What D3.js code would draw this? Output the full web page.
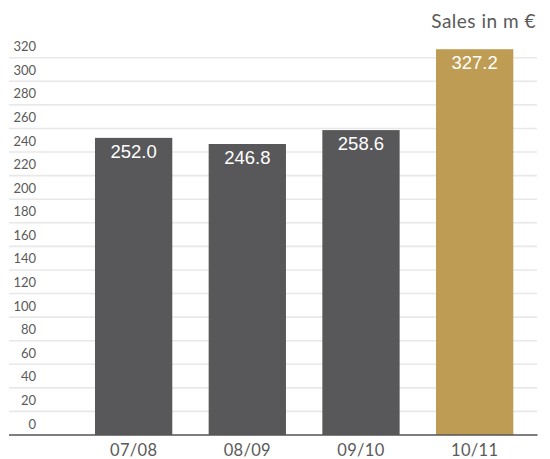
<!DOCTYPE html>
<html>
<head>
<meta charset="utf-8">
<script src="https://cdn.jsdelivr.net/npm/d3@7"></script>
<style>
  html, body { margin: 0; padding: 0; background: #fff; }
  svg { display: block; }
</style>
</head>
<body>
<svg id="chart" width="550" height="459"></svg>
<script>
const categories = ["07/08", "08/09", "09/10", "10/11"];
const salesValues = [252.0, 246.8, 258.6, 327.2];
const valueLabels = ["252.0", "246.8", "258.6", "327.2"];
const tickValues = [0, 20, 40, 60, 80, 100, 120, 140, 160, 180, 200, 220, 240, 260, 280, 300, 320];
const highlightCategory = "10/11";
const unitTitle = "Sales in m €";

const svg = d3.select("#chart");
const textFont = "Lato, 'Open Sans', sans-serif";
const textColor = "#5a5a5a";

const y = d3.scaleLinear().domain([0, 320]).range([435, 57.7]);
const x = d3.scaleBand().domain(categories).range([76.8, 531.5])
  .paddingInner(0.32).paddingOuter(0.16);

// gridlines
svg.append("g").selectAll("line").data(tickValues.filter(d => d > 0)).join("line")
  .attr("x1", 9).attr("x2", 537)
  .attr("y1", d => y(d)).attr("y2", d => y(d))
  .attr("stroke", "#e8e8e8").attr("stroke-width", 1.6);

// tick labels (above their gridline)
svg.append("g").selectAll("text").data(tickValues).join("text")
  .attr("x", 36).attr("y", d => y(d) - 6.5)
  .attr("text-anchor", "end")
  .attr("font-family", textFont).attr("font-size", 13)
  .attr("fill", textColor)
  .text(d => d);

// bars
svg.append("g").selectAll("rect").data(categories).join("rect")
  .attr("x", d => x(d)).attr("width", x.bandwidth())
  .attr("y", (d, i) => y(salesValues[i]))
  .attr("height", (d, i) => y(0) - y(salesValues[i]))
  .attr("fill", d => d === highlightCategory ? "#bf9c53" : "#58585a");

// value labels
svg.append("g").selectAll("text").data(categories).join("text")
  .attr("x", d => x(d) + x.bandwidth() / 2)
  .attr("y", (d, i) => y(salesValues[i]) + 20)
  .attr("text-anchor", "middle")
  .attr("font-family", "'Liberation Sans', Arial, sans-serif")
  .attr("font-size", 18.5)
  .attr("fill", "#ffffff")
  .text((d, i) => valueLabels[i]);

// baseline
svg.append("line")
  .attr("x1", 9).attr("x2", 537.5)
  .attr("y1", y(0)).attr("y2", y(0))
  .attr("stroke", "#555555").attr("stroke-width", 1.6);

// category axis labels
const xAxis = d3.axisBottom(x).tickSize(0).tickPadding(0);
const gx = svg.append("g").attr("transform", `translate(0, ${y(0)})`).call(xAxis);
gx.select(".domain").remove();
gx.selectAll("text")
  .attr("y", 20.5)
  .attr("dy", 0)
  .attr("font-family", textFont).attr("font-size", 16.5)
  .attr("letter-spacing", 0.3)
  .attr("fill", textColor);

// unit title
svg.append("text")
  .attr("x", 536).attr("y", 28.3)
  .attr("text-anchor", "end")
  .attr("font-family", textFont).attr("font-size", 19)
  .attr("letter-spacing", 0.5)
  .attr("fill", textColor)
  .text(unitTitle);
</script>
</body>
</html>
